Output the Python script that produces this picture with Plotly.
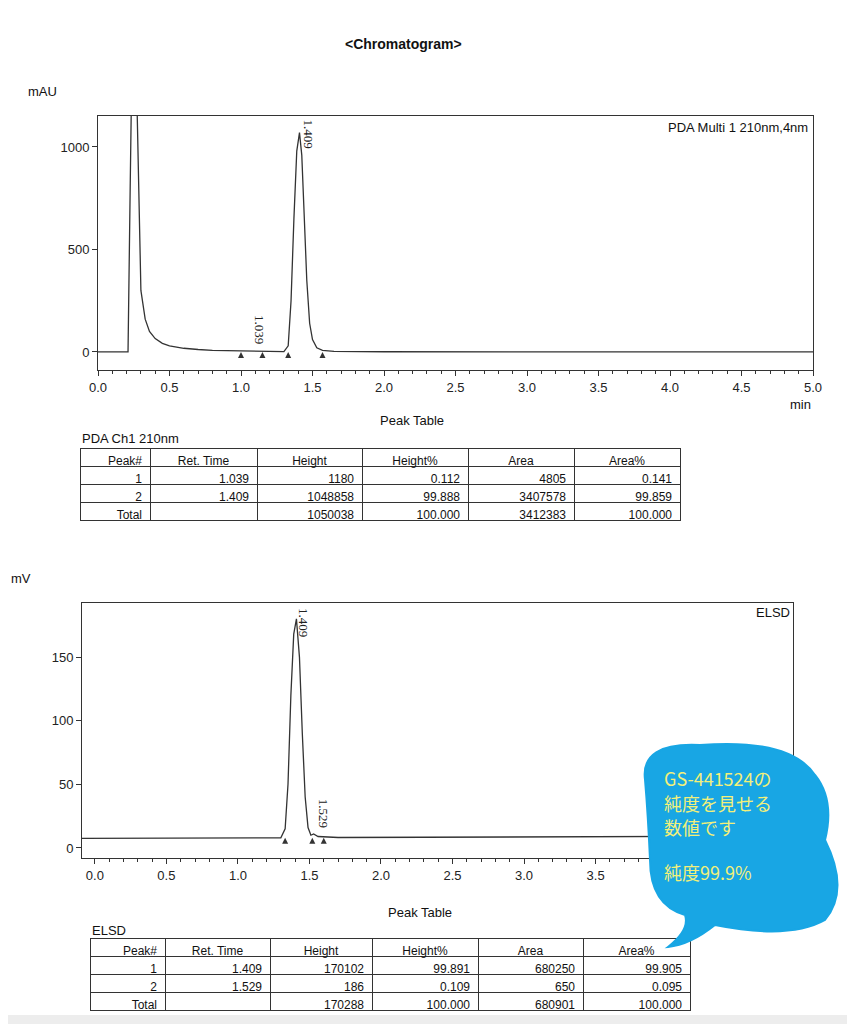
import plotly.graph_objects as go

# page body adds an 8px margin, so the figure is drawn 8px smaller and offset
OFF = 8
W, H = 855 - OFF, 1024 - OFF

# --- data ---
pda_t = [0.0, 0.21, 0.225, 0.235, 0.27, 0.285, 0.30, 0.33, 0.36, 0.40, 0.45, 0.5, 0.6, 0.7, 0.8, 1.0, 1.2,
         1.30, 1.33, 1.35, 1.37, 1.39, 1.409, 1.425, 1.44, 1.46, 1.48, 1.50, 1.53, 1.57, 1.65, 2.0, 5.0]
pda_v = [0, 0, 800, 1300, 1300, 700, 300, 160, 100, 65, 42, 30, 18, 12, 8, 5, 3,
         2, 30, 250, 650, 980, 1070, 960, 700, 350, 140, 60, 20, 8, 3, 1, 0]
elsd_t = [-0.09, 0.5, 1.0, 1.30, 1.33, 1.35, 1.37, 1.39, 1.409, 1.43, 1.45, 1.47, 1.49, 1.51, 1.529, 1.56, 1.7, 2.5, 3.5, 4.9]
elsd_v = [7.5, 7.8, 8.0, 8.0, 15, 50, 120, 168, 180, 150, 90, 40, 16, 10, 11, 9, 8.2, 8.5, 9, 9.3]

pda_peaks = ["1.039", "1.409"]
pda_peak_t = [1.13, 1.47]
pda_peak_y = [190, 1145]
pda_marks = [1.0, 1.15, 1.33, 1.57]
elsd_peaks = ["1.409", "1.529"]
elsd_peak_t = [1.46, 1.6]
elsd_peak_y = [190, 40]
elsd_marks = [1.33, 1.52, 1.6]

tbl_cols = ["Peak#", "Ret. Time", "Height", "Height%", "Area", "Area%"]
pda_rows = [["1", "2", "Total"], ["1.039", "1.409", ""], ["1180", "1048858", "1050038"],
            ["0.112", "99.888", "100.000"], ["4805", "3407578", "3412383"], ["0.141", "99.859", "100.000"]]
elsd_rows = [["1", "2", "Total"], ["1.409", "1.529", ""], ["170102", "186", "170288"],
             ["99.891", "0.109", "100.000"], ["680250", "650", "680901"], ["99.905", "0.095", "100.000"]]

bubble_lines = ["GS-441524の", "純度を見せる", "数値です", "純度99.9%"]


def px(x, y):
    return (x - OFF) / W, 1 - (y - OFF) / H


fig = go.Figure()
line = dict(color="#333", width=1.3)
fig.add_trace(go.Scatter(x=pda_t, y=pda_v, mode="lines", line=line, xaxis="x", yaxis="y", showlegend=False))
fig.add_trace(go.Scatter(x=elsd_t, y=elsd_v, mode="lines", line=line, xaxis="x2", yaxis="y2", showlegend=False))
fig.add_trace(go.Scatter(x=pda_marks, y=[0] * 4, mode="markers", marker=dict(symbol="arrow-up", size=6, color="#333"),
                         xaxis="x", yaxis="y", showlegend=False))
fig.add_trace(go.Scatter(x=elsd_marks, y=[8] * 3, mode="markers", marker=dict(symbol="arrow-up", size=6, color="#333"),
                         xaxis="x2", yaxis="y2", showlegend=False))

serif = dict(family="Liberation Serif", size=13, color="#222")
ann = []
for t, x, y in zip(pda_peaks, pda_peak_t, pda_peak_y):
    ann.append(dict(text=t, x=x, y=y, xref="x", yref="y", textangle=90, showarrow=False, font=serif, yanchor="top"))
for t, x, y in zip(elsd_peaks, elsd_peak_t, elsd_peak_y):
    ann.append(dict(text=t, x=x, y=y, xref="x2", yref="y2", textangle=90, showarrow=False, font=serif, yanchor="top"))

sans = dict(family="Liberation Sans", size=13, color="#111")
def txt(s, x, y, xa="center", size=13, bold=False, font=None):
    fx, fy = px(x, y)
    ann.append(dict(text=f"<b>{s}</b>" if bold else s, x=fx, y=fy, xref="paper", yref="paper",
                    showarrow=False, xanchor=xa, yanchor="middle", font=font or dict(sans, size=size)))

txt("&lt;Chromatogram&gt;", 403, 44, size=14, bold=True)
txt("mAU", 42, 92)
txt("min", 800, 404)
txt("PDA Multi 1 210nm,4nm", 810, 127, xa="right")
txt("Peak Table", 412, 421)
txt("PDA Ch1 210nm", 80, 438, xa="left")
txt("mV", 9, 578, xa="left")
txt("ELSD", 792, 612, xa="right")
txt("Peak Table", 420, 912)
txt("ELSD", 90, 930, xa="left")

bub_font = dict(family="Noto Sans CJK JP", size=18, color="#f2f07a")
for s, yy in zip(bubble_lines, [778, 803, 827, 872]):
    txt(s, 662, yy, xa="left", font=bub_font)

ax = dict(showline=True, linecolor="#333", mirror=True, ticks="outside", ticklen=5, tickcolor="#333",
          showgrid=False, zeroline=False, automargin=False,
          tickfont=dict(family="Liberation Sans", size=13, color="#222"),
          minor=dict(ticks="outside", ticklen=3, dtick=0.1, tickcolor="#333"))
yax = dict(ax, minor=None)

x0, y0 = px(98, 116); x1, y1 = px(813, 370)
x20, y20 = px(82, 603); x21, y21 = px(793, 858)

def tdom(l, t, r, b):
    a, bb = px(l, t); c, d = px(r, b)
    return dict(x=[a, c], y=[d, bb])

cellfont = dict(family="Liberation Sans", size=12, color="#111")
def table(rows, dom, widths):
    return go.Table(domain=dom, columnwidth=widths,
                    header=dict(values=tbl_cols, height=18, line_color="#333", fill_color="white",
                                align=["right", "center", "center", "center", "center", "center"], font=cellfont),
                    cells=dict(values=rows, height=18, line_color="#333", fill_color="white", align="right", font=cellfont))

fig.add_trace(table(pda_rows, tdom(80, 448, 680, 522), [70, 107, 105, 106, 106, 106]))
fig.add_trace(table(elsd_rows, tdom(90, 938, 690, 1012), [75, 105, 102, 106, 105, 107]))

# speech bubble outline (pixel points, quadratic curves)
def P(a, b):
    q = px(a, b)
    return f"{q[0]:.4f},{q[1]:.4f}"

path = ("M " + P(645, 780) + " Q " + P(640, 742) + " " + P(700, 745) +
        " Q " + P(790, 738) + " " + P(815, 775) +
        " Q " + P(835, 800) + " " + P(825, 840) +
        " Q " + P(850, 890) + " " + P(825, 920) +
        " Q " + P(790, 940) + " " + P(715, 925) +
        " Q " + P(690, 945) + " " + P(668, 947) +
        " Q " + P(690, 930) + " " + P(685, 915) +
        " Q " + P(650, 905) + " " + P(650, 860) +
        " Q " + P(648, 815) + " " + P(645, 780) + " Z")

fig.update_layout(
    width=W, height=H, margin=dict(l=0, r=0, t=0, b=0), paper_bgcolor="white", plot_bgcolor="white",
    xaxis=dict(ax, domain=[x0, x1], range=[0, 5.0], dtick=0.5, tickformat=".1f", anchor="y"),
    yaxis=dict(yax, domain=[y1, y0], range=[-88, 1151], tickvals=[0, 500, 1000], anchor="x"),
    xaxis2=dict(ax, domain=[x20, x21], range=[-0.09, 4.88], dtick=0.5, tickformat=".1f", anchor="y2"),
    yaxis2=dict(yax, domain=[y21, y20], range=[-7.9, 192.5], tickvals=[0, 50, 100, 150], anchor="x2"),
    annotations=ann,
    shapes=[dict(type="path", path=path, xref="paper", yref="paper", fillcolor="#18a6e4", line=dict(color="#18a6e4"),
                 layer="above"),
            dict(type="rect", xref="paper", yref="paper", x0=0, x1=1, y0=0, y1=px(0, 1015)[1],
                 fillcolor="#ededed", line_width=0)],
)

fig.write_html("out.html")
